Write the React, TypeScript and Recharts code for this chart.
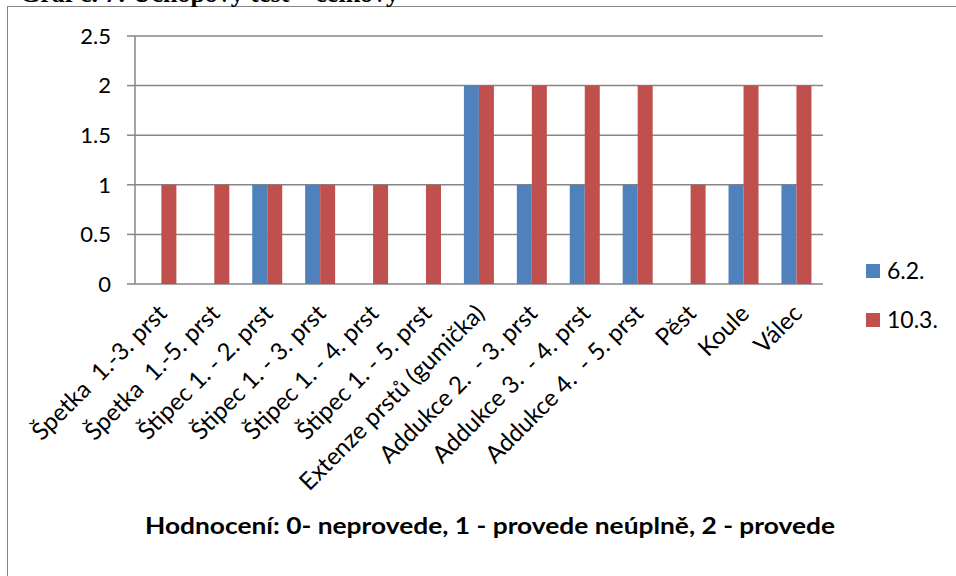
import React from 'react';
import { BarChart, Bar, XAxis, YAxis, CartesianGrid } from 'recharts';

// Grip test items (category axis)
const categories = [
  'Špetka  1.-3. prst',
  'Špetka  1.-5. prst',
  'Štipec 1. - 2. prst',
  'Štipec 1. - 3. prst',
  'Štipec 1. - 4. prst',
  'Štipec 1. - 5. prst',
  'Extenze prstů (gumička)',
  'Addukce 2.  - 3. prst',
  'Addukce 3.  - 4. prst',
  'Addukce 4.  - 5. prst',
  'Pěst',
  'Koule',
  'Válec',
];

// Scores per session date
const seriesFeb = [0, 0, 1, 1, 0, 0, 2, 1, 1, 1, 0, 1, 1];
const seriesMar = [1, 1, 1, 1, 1, 1, 2, 2, 2, 2, 1, 2, 2];

const seriesNames = ['6.2.', '10.3.'];
const seriesColors = ['#4F81BD', '#C0504D'];

const yTicks = [0, 0.5, 1, 1.5, 2, 2.5];
// Category boundaries for the tick marks between groups
const boundaryTicks = categories.map((_, i) => i).concat([categories.length]);

const chartTitle = 'Graf č. 7: Úchopový test – celkový';
const axisNote = 'Hodnocení:  0- neprovede, 1 - provede neúplně, 2 - provede';

const data = categories.map((name, i) => ({
  name,
  feb: seriesFeb[i],
  mar: seriesMar[i],
}));

const FONT = 'Lato, "Open Sans", sans-serif';
const GRAY = '#868686';

const AngledTick = (props: any) => {
  const { x, y, payload } = props;
  return (
    <g transform={`translate(${x + 7},${y + 21})`}>
      <text
        textAnchor="end"
        transform="rotate(-45)"
        fontSize={24}
        fontFamily={FONT}
        fill="#000"
        style={{ whiteSpace: 'pre' }}
      >
        {payload.value}
      </text>
    </g>
  );
};

const LegendBox = () => (
  <div style={{ fontFamily: FONT, fontSize: 23, color: '#000', lineHeight: 1 }}>
    {seriesNames.map((n, i) => (
      <div key={n} style={{ display: 'flex', alignItems: 'center', height: 49 }}>
        <span
          style={{
            display: 'inline-block',
            width: 14,
            height: 14,
            background: seriesColors[i],
            marginRight: 7,
          }}
        />
        <span>{n}</span>
      </div>
    ))}
  </div>
);

export default function App() {
  return (
    <div
      style={{
        position: 'absolute',
        left: 0,
        top: 0,
        width: 956,
        height: 576,
        overflow: 'hidden',
        background: '#fff',
      }}
    >
      {/* chart frame */}
      <div
        style={{
          position: 'absolute',
          left: 7,
          top: 6,
          width: 1000,
          height: 700,
          border: `1.5px solid ${GRAY}`,
        }}
      />
      <div style={{ position: 'absolute', left: 0, top: 0 }}>
        <BarChart
          width={956}
          height={576}
          data={data}
          margin={{ top: 36, right: 133, bottom: 0, left: 0 }}
          barCategoryGap="21.5%"
          barGap={0}
        >
          <CartesianGrid vertical={false} stroke={GRAY} strokeWidth={1.5} />
          <XAxis
            xAxisId="bounds"
            type="number"
            domain={[0, categories.length]}
            ticks={boundaryTicks}
            tick={false}
            tickSize={8}
            height={0}
            axisLine={{ stroke: GRAY, strokeWidth: 1.5 }}
            tickLine={{ stroke: GRAY, strokeWidth: 1.5 }}
            allowDataOverflow
          />
          <XAxis
            dataKey="name"
            interval={0}
            height={292}
            tickSize={8}
            tickLine={false}
            axisLine={false}
            tick={<AngledTick />}
          />
          <YAxis
            width={135}
            domain={[0, 2.5]}
            ticks={yTicks}
            interval={0}
            tickSize={8}
            tickMargin={16}
            axisLine={{ stroke: GRAY, strokeWidth: 1.5 }}
            tickLine={{ stroke: GRAY, strokeWidth: 1.5 }}
            tick={{ fontSize: 22, fontFamily: FONT, fill: '#000' }}
          />
          <Bar
            dataKey="feb"
            name={seriesNames[0]}
            fill={seriesColors[0]}
            isAnimationActive={false}
          />
          <Bar
            dataKey="mar"
            name={seriesNames[1]}
            fill={seriesColors[1]}
            isAnimationActive={false}
          />
        </BarChart>
      </div>
      <div style={{ position: 'absolute', left: 866, top: 246 }}>
        <LegendBox />
      </div>
      <svg
        width={956}
        height={576}
        style={{ position: 'absolute', left: 0, top: 0, pointerEvents: 'none' }}
      >
        <text
          x={20}
          y={2}
          fontFamily='"Liberation Serif", serif'
          fontWeight="bold"
          fontSize={26}
          fill="#000"
        >
          {chartTitle}
        </text>
        <text
          x={490}
          y={534}
          textAnchor="middle"
          fontFamily={FONT}
          fontWeight="bold"
          fontSize={22}
          textLength={690}
          lengthAdjust="spacingAndGlyphs"
          fill="#000"
        >
          {axisNote}
        </text>
      </svg>
    </div>
  );
}
